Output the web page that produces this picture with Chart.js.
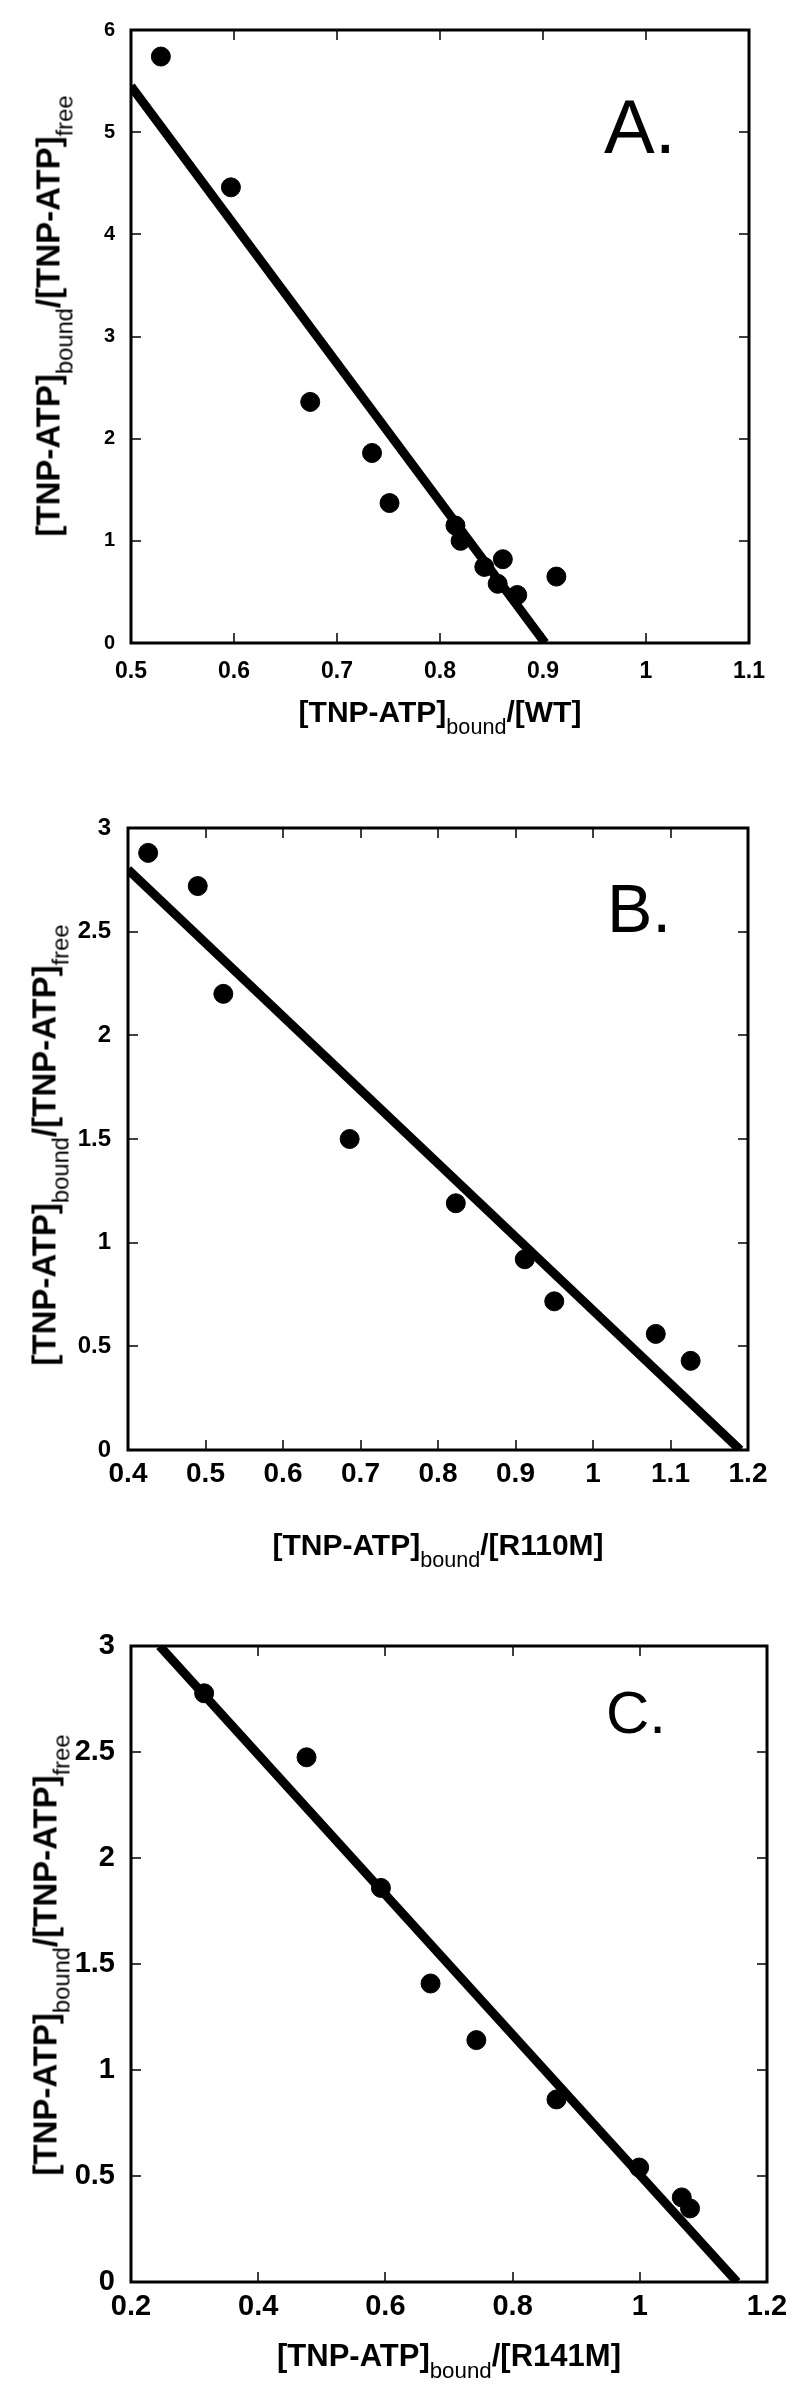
<!DOCTYPE html>
<html>
<head>
<meta charset="utf-8">
<script src="https://cdn.jsdelivr.net/npm/chart.js@4.4.0/dist/chart.umd.min.js"></script>
<style>
  body { margin: 0; background: #fff; }
  #page { position: relative; width: 800px; height: 2389px; overflow: hidden; font-family: "Liberation Sans", Arial, sans-serif; color: #000; }
  canvas { position: absolute; left: 0; }
  .xt, .yt { position: absolute; font-weight: bold; white-space: nowrap; line-height: 1; }
  .xt { transform: translateX(-50%); }
  .yt { transform: translate(-50%, -50%) rotate(-90deg); }
  .xt sub, .yt sub { font-size: 0.72em; font-weight: normal; vertical-align: -0.55em; line-height: 0; }
  .lab { position: absolute; line-height: 1; font-weight: normal; }
</style>
</head>
<body>
<div id="page">
  <canvas id="chartA" width="800" height="780" style="top:0px"></canvas>
  <canvas id="chartB" width="800" height="780" style="top:780px"></canvas>
  <canvas id="chartC" width="800" height="829" style="top:1560px"></canvas>

  <div class="lab" style="left:604px; top:89px; font-size:76px">A.</div>
  <div class="lab" style="left:607px; top:874px; font-size:68px">B.</div>
  <div class="lab" style="left:606px; top:1683px; font-size:60px">C.</div>

  <div class="xt" style="left:440px; top:697px; font-size:30px">[TNP-ATP]<sub>bound</sub>/[WT]</div>
  <div class="xt" style="left:438px; top:1530px; font-size:30px">[TNP-ATP]<sub>bound</sub>/[R110M]</div>
  <div class="xt" style="left:449px; top:2340px; font-size:31px">[TNP-ATP]<sub>bound</sub>/[R141M]</div>

  <div class="yt" style="left:48px; top:316px; font-size:33px">[TNP-ATP]<sub>bound</sub>/[TNP-ATP]<sub>free</sub></div>
  <div class="yt" style="left:44px; top:1145px; font-size:33px">[TNP-ATP]<sub>bound</sub>/[TNP-ATP]<sub>free</sub></div>
  <div class="yt" style="left:45px; top:1955px; font-size:33px">[TNP-ATP]<sub>bound</sub>/[TNP-ATP]<sub>free</sub></div>
</div>

<script>
const FONT = '"Liberation Sans", Arial, sans-serif';

// Panel A - WT
const xA = [0.529, 0.597, 0.674, 0.734, 0.751, 0.815, 0.820, 0.843, 0.861, 0.856, 0.875, 0.913];
const yA = [5.74, 4.46, 2.36, 1.86, 1.37, 1.15, 1.00, 0.745, 0.82, 0.58, 0.47, 0.65];
const fitXA = [0.5, 0.902];
const fitYA = [5.45, 0];
const ticksXA = [0.5, 0.6, 0.7, 0.8, 0.9, 1, 1.1];
const ticksYA = [0, 1, 2, 3, 4, 5, 6];

// Panel B - R110M
const xB = [0.426, 0.490, 0.523, 0.686, 0.823, 0.912, 0.950, 1.081, 1.126];
const yB = [2.88, 2.72, 2.20, 1.50, 1.19, 0.92, 0.717, 0.56, 0.43];
const fitXB = [0.4, 1.19];
const fitYB = [2.8, 0];
const ticksXB = [0.4, 0.5, 0.6, 0.7, 0.8, 0.9, 1, 1.1, 1.2];
const ticksYB = [0, 0.5, 1, 1.5, 2, 2.5, 3];

// Panel C - R141M
const xC = [0.315, 0.476, 0.593, 0.671, 0.743, 0.869, 0.999, 1.066, 1.079];
const yC = [2.777, 2.475, 1.859, 1.408, 1.141, 0.861, 0.540, 0.399, 0.347];
const fitXC = [0.245, 1.153];
const fitYC = [3, 0];
const ticksXC = [0.2, 0.4, 0.6, 0.8, 1, 1.2];
const ticksYC = [0, 0.5, 1, 1.5, 2, 2.5, 3];

// frame round the plot with inward ticks on all four sides
const boxTicks = {
  id: 'boxTicks',
  beforeDatasetsDraw(chart) {
    const { ctx, chartArea: a, scales } = chart;
    const len = 10;
    ctx.save();
    ctx.strokeStyle = '#000';
    ctx.lineWidth = 1.5;
    ctx.beginPath();
    scales.x.ticks.forEach(t => {
      const px = Math.round(scales.x.getPixelForValue(t.value));
      ctx.moveTo(px, a.bottom); ctx.lineTo(px, a.bottom - len);
      ctx.moveTo(px, a.top); ctx.lineTo(px, a.top + len);
    });
    scales.y.ticks.forEach(t => {
      const py = Math.round(scales.y.getPixelForValue(t.value));
      ctx.moveTo(a.left, py); ctx.lineTo(a.left + len, py);
      ctx.moveTo(a.right, py); ctx.lineTo(a.right - len, py);
    });
    ctx.stroke();
    ctx.lineWidth = 3;
    ctx.strokeRect(a.left, a.top, a.right - a.left, a.bottom - a.top);
    ctx.restore();
  }
};

function axis(pos, min, max, ticks, size, pad) {
  return {
    type: 'linear',
    position: pos,
    min: min,
    max: max,
    afterBuildTicks: s => { s.ticks = ticks.map(v => ({ value: v })); },
    afterFit: s => { if (pos === 'left') s.width = 60; else s.height = 60; },
    grid: { display: false, drawTicks: false },
    border: { display: false },
    ticks: {
      color: '#000',
      font: { family: FONT, size: size, weight: 'bold' },
      padding: pad,
      autoSkip: false,
      maxRotation: 0,
      callback: v => String(v)
    }
  };
}

function makeChart(id, xs, ys, fx, fy, sx, sy, pad) {
  new Chart(document.getElementById(id), {
    type: 'scatter',
    data: {
      datasets: [
        {
          data: xs.map((v, i) => ({ x: v, y: ys[i] })),
          backgroundColor: '#000',
          borderColor: '#000',
          pointRadius: 9.5,
          pointHoverRadius: 9.5
        },
        {
          data: fx.map((v, i) => ({ x: v, y: fy[i] })),
          showLine: true,
          borderColor: '#000',
          borderWidth: 9,
          pointRadius: 0
        }
      ]
    },
    options: {
      responsive: false,
      animation: false,
      layout: { padding: pad },
      plugins: { legend: { display: false }, tooltip: { enabled: false } },
      scales: { x: sx, y: sy }
    },
    plugins: [boxTicks]
  });
}

makeChart('chartA', xA, yA, fitXA, fitYA,
  axis('bottom', 0.5, 1.1, ticksXA, 23, 15),
  axis('left', 0, 6, ticksYA, 20, 16),
  { left: 71, right: 51, top: 30, bottom: 77 });

makeChart('chartB', xB, yB, fitXB, fitYB,
  axis('bottom', 0.4, 1.2, ticksXB, 28, 7),
  axis('left', 0, 3, ticksYB, 24, 17),
  { left: 68, right: 52, top: 48, bottom: 50 });

makeChart('chartC', xC, yC, fitXC, fitYC,
  axis('bottom', 0.2, 1.2, ticksXC, 29, 8),
  axis('left', 0, 3, ticksYC, 29, 16),
  { left: 71, right: 33, top: 86, bottom: 47 });
</script>
</body>
</html>
